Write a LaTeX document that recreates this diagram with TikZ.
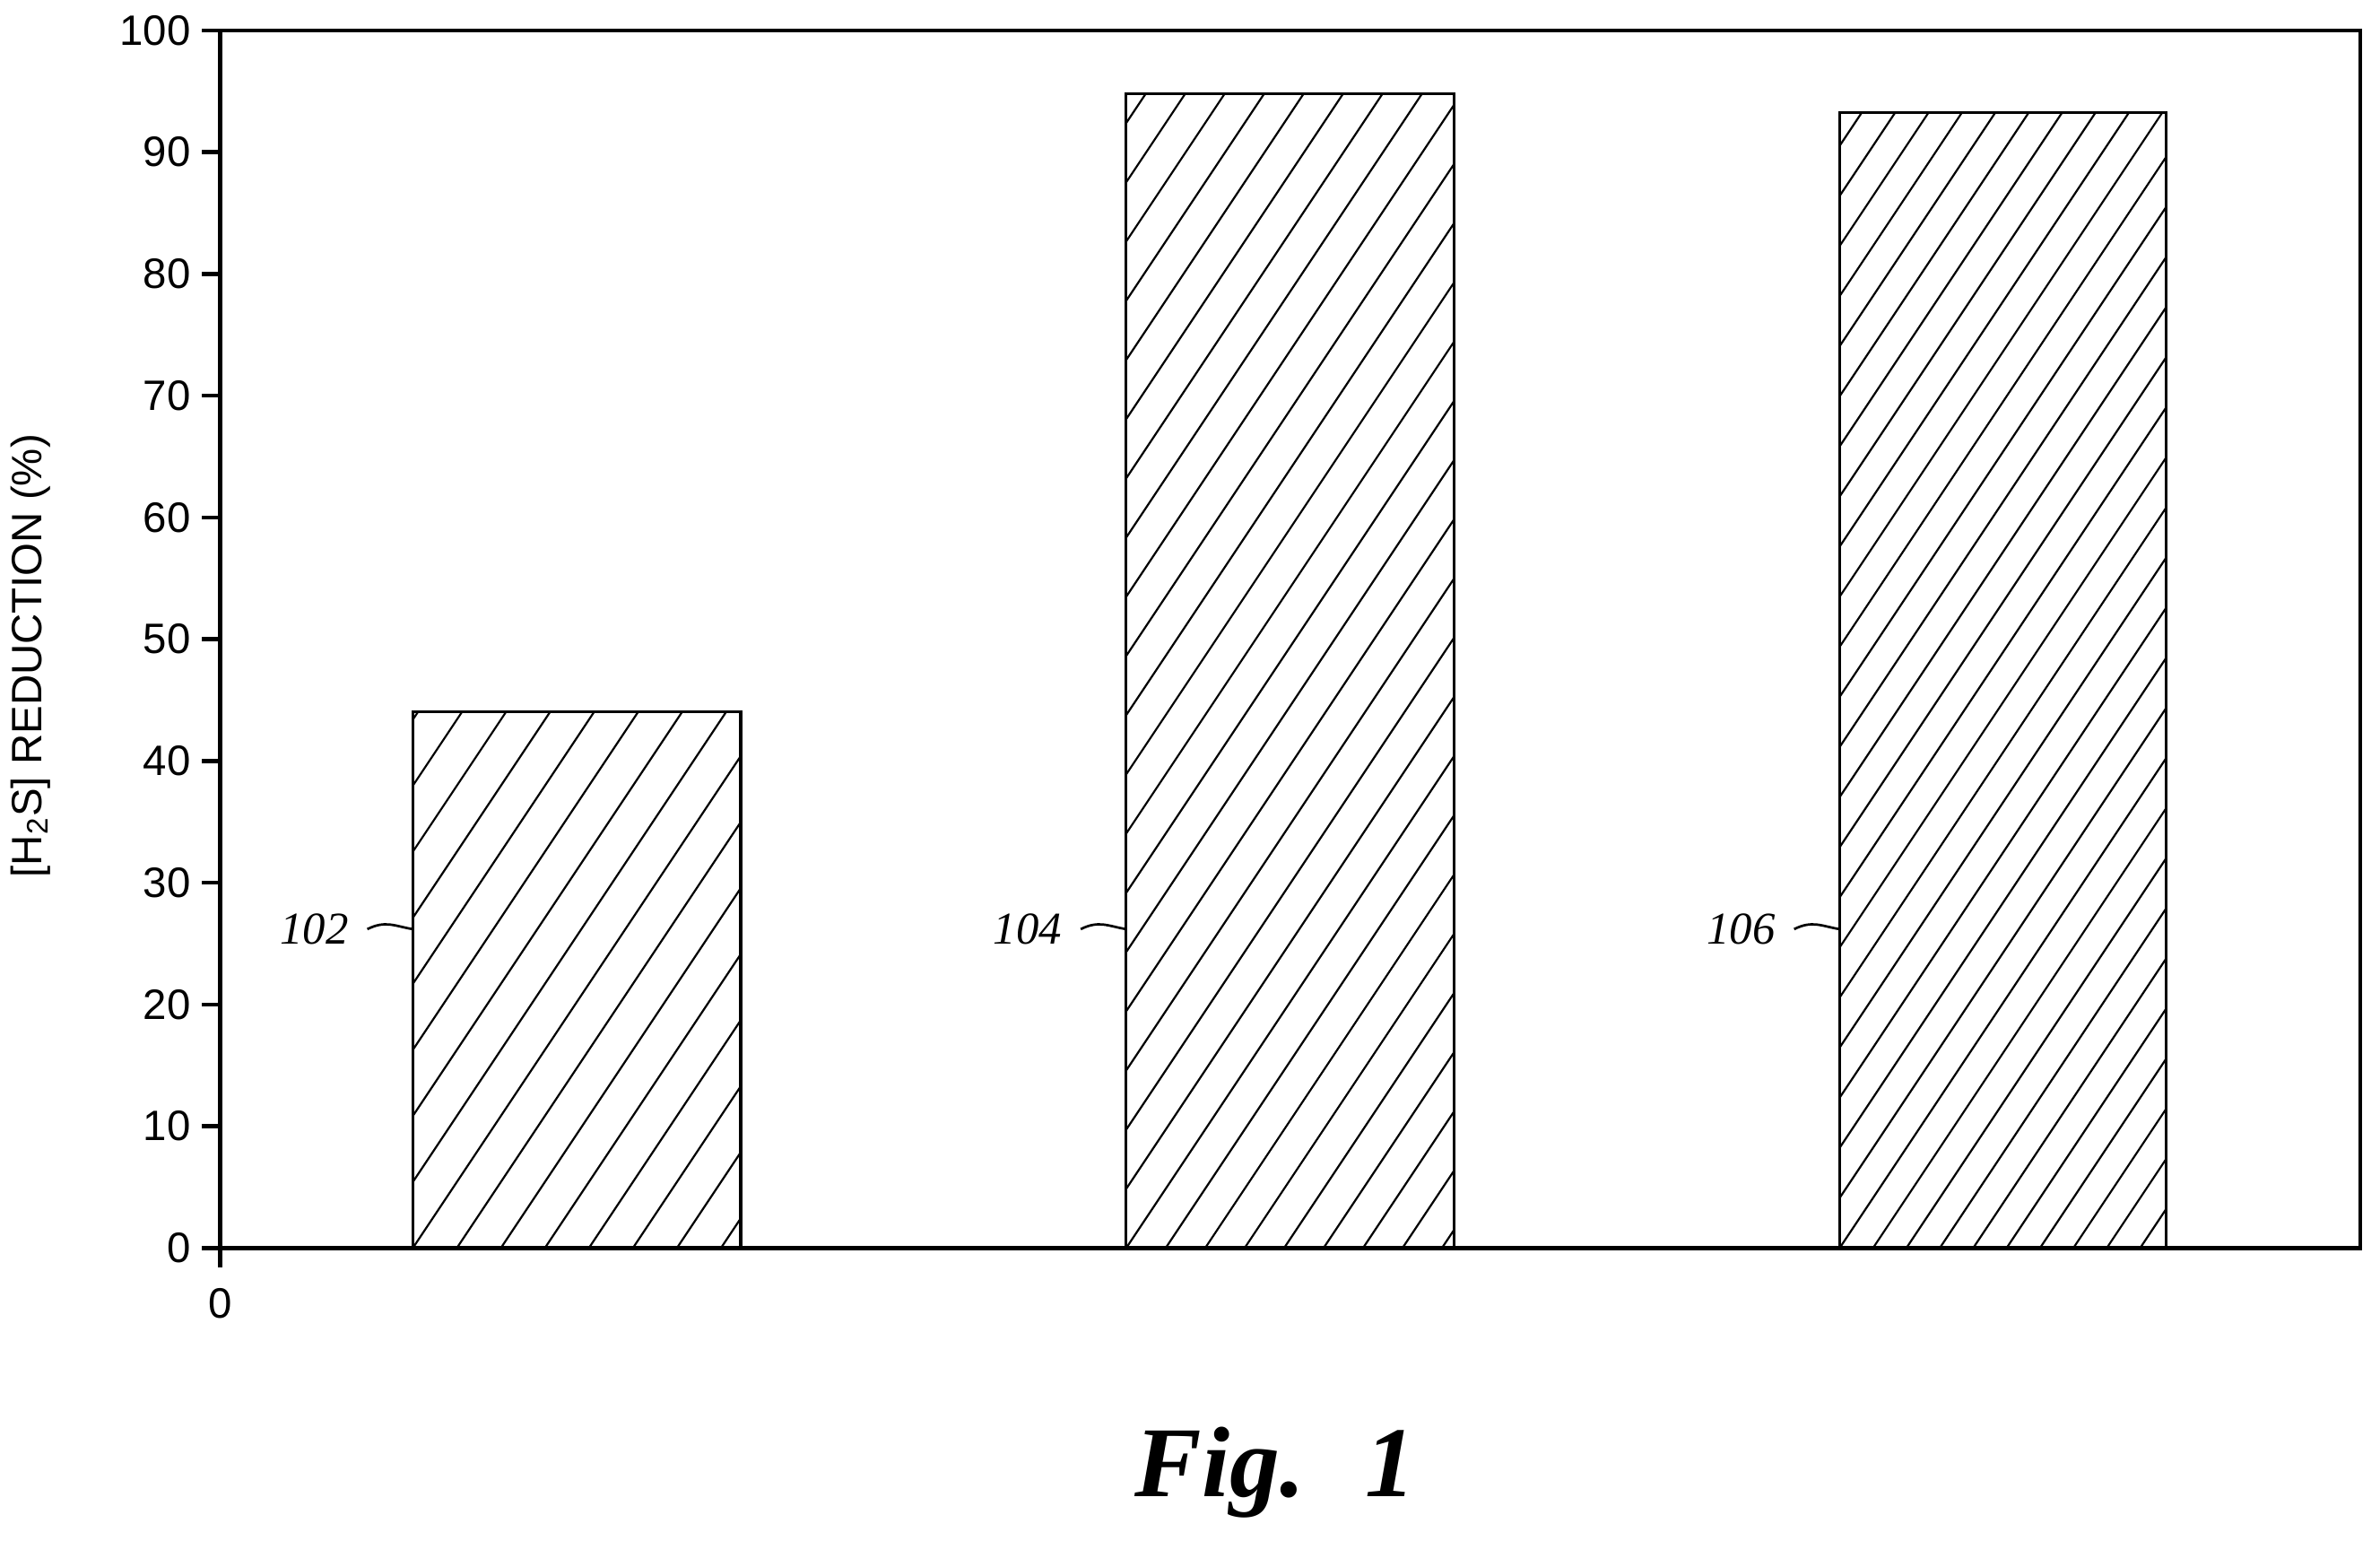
\documentclass[tikz,border=0pt]{standalone}
\usepackage{fontspec}
\setmainfont{Liberation Serif}
\setsansfont{Liberation Sans}
\begin{document}
\begin{tikzpicture}[x=0.5pt,y=-0.5pt,
  axisline/.style={line width=1.3pt},
  barbox/.style={line width=0.9pt},
  hatchline/.style={line width=0.65pt},
  ticklab/.style={font=\sffamily\fontsize{14}{16}\selectfont,anchor=east,inner sep=0pt},
  reflab/.style={font=\itshape\fontsize{15}{17}\selectfont,anchor=east,inner sep=0pt},
  leader/.style={line width=0.8pt}]
\useasboundingbox (0,0) rectangle (1568,1015);
% axes frame
\draw[axisline] (145,20) -- (1555,20) -- (1555,822) -- (145,822) -- cycle;
\draw[axisline] (145,822) -- (145,835);
\foreach \v in {0,10,...,100}{
  \pgfmathsetmacro{\yy}{822-8.02*\v}
  \draw[axisline] (133,\yy) -- (145,\yy);
  \node[ticklab] (t\v) at (126,\yy) {\v};
}
\node[font=\sffamily\fontsize{14}{16}\selectfont,anchor=north,inner sep=0pt] (x0) at (145,848) {0};
\node[font=\sffamily\fontsize{14}{16}\selectfont,rotate=90,inner sep=0pt] (ylab) at (20,432) {[H\textsubscript{2}S] REDUCTION (\%)};
% bars
\foreach \xa/\xb/\yt/\s/\nm in {272/488/469/29/a,742/958/62/26/b,1212/1427/74/22/c}{
  \begin{scope}
    \clip (\xa,822) rectangle (\xb,\yt);
    \foreach \k in {-34,...,12}{
      \draw[hatchline] (\xa+\k*\s,822) -- ++(520,-780);
    }
  \end{scope}
  \draw[barbox] (\xa,822) rectangle (\xb,\yt);
  \coordinate (bar\nm) at (\xa,612);
}
% reference labels
\node[reflab] (l102) at (230,612) {102};
\node[reflab] (l104) at (700,612) {104};
\node[reflab] (l106) at (1170,612) {106};
\draw[leader] ([xshift=6]l102.east) .. controls ++(12,-6) and ++(-12,-2) .. (bara);
\draw[leader] ([xshift=6]l104.east) .. controls ++(12,-6) and ++(-12,-2) .. (barb);
\draw[leader] ([xshift=6]l106.east) .. controls ++(12,-6) and ++(-12,-2) .. (barc);
\node[font=\itshape\fontsize{33}{38}\selectfont,inner sep=0pt] (fig) at (840,970) {\textbf{Fig.}\hspace{0.6em}\textbf{1}};
\end{tikzpicture}
\end{document}
